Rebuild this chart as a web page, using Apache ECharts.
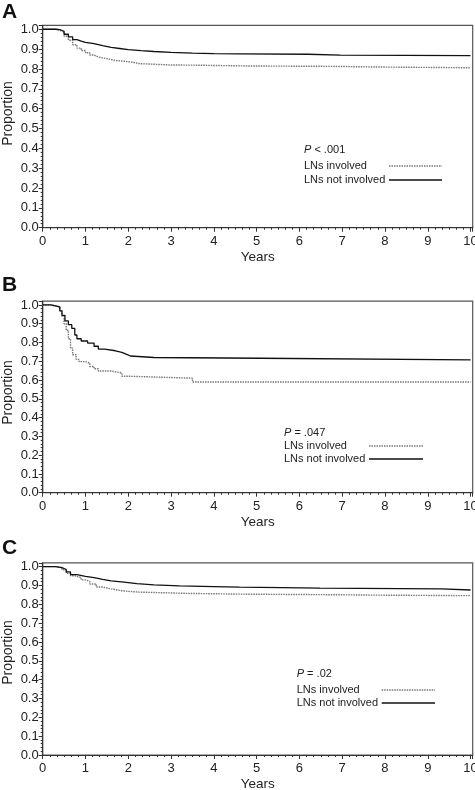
<!DOCTYPE html>
<html><head><meta charset="utf-8">
<script src="https://cdn.jsdelivr.net/npm/echarts@6/dist/echarts.min.js"></script>
<style>html,body{margin:0;padding:0;background:#fff}#c{width:475px;height:790px}</style>
</head><body><div id="c"></div><script>
// ---- data ----
const xTicks = [0,1,2,3,4,5,6,7,8,9,10];
const yTicks = [0.0,0.1,0.2,0.3,0.4,0.5,0.6,0.7,0.8,0.9,1.0];
const panelLetters = ['A','B','C'];
const pValues = ['< .001','= .047','= .02'];
const seriesNames = ['LNs involved','LNs not involved'];

const aInvolvedT = [0,0.3,0.4,0.5,0.6,0.7,0.8,0.9,1.0,1.1,1.2,1.3,1.5,1.7,1.9,2.1,2.25,3.0,3.6,4.8,6.8,7.7,10];
const aInvolvedS = [1.0,0.995,0.985,0.965,0.945,0.922,0.905,0.893,0.882,0.87,0.86,0.852,0.843,0.839,0.834,0.827,0.82,0.819,0.815,0.813,0.81,0.806,0.806];
const aNotT = [0,0.3,0.4,0.5,0.6,0.7,0.8,0.9,1.0,1.2,1.4,1.6,1.8,2.0,2.3,2.6,3.0,3.5,4.0,4.6,6.2,6.95,10];
const aNotS = [1.0,0.998,0.99,0.975,0.962,0.948,0.94,0.934,0.928,0.918,0.909,0.903,0.897,0.892,0.888,0.884,0.880,0.877,0.876,0.874,0.870,0.867,0.867];

const bInvolvedT = [0,0.15,0.3,0.4,0.45,0.5,0.55,0.6,0.65,0.7,0.78,0.85,1.0,1.1,1.2,1.3,1.6,1.85,2.05,3.5,10];
const bInvolvedS = [1.0,0.995,0.988,0.97,0.94,0.9,0.865,0.82,0.77,0.735,0.71,0.698,0.69,0.672,0.66,0.648,0.638,0.62,0.61,0.59,0.59];
const bNotT = [0,0.2,0.3,0.4,0.45,0.52,0.6,0.68,0.75,0.8,0.9,1.05,1.2,1.3,1.45,1.7,1.85,1.95,2.05,2.6,5.08,10];
const bNotS = [1.0,0.995,0.99,0.968,0.945,0.915,0.895,0.875,0.84,0.82,0.808,0.797,0.78,0.765,0.756,0.747,0.738,0.728,0.72,0.716,0.707,0.707];

const cInvolvedT = [0,0.3,0.45,0.55,0.65,0.75,0.9,1.0,1.1,1.25,1.4,1.6,1.8,2.0,2.25,3.4,4.7,6.8,7.7,10];
const cInvolvedS = [1.0,0.995,0.983,0.965,0.952,0.942,0.93,0.921,0.908,0.892,0.882,0.874,0.869,0.865,0.858,0.854,0.851,0.849,0.846,0.846];
const cNotT = [0,0.3,0.45,0.55,0.65,0.8,1.0,1.2,1.4,1.6,1.9,2.2,2.6,3.2,4.0,4.6,5.58,6.48,9.32,10];
const cNotS = [1.0,0.995,0.985,0.972,0.958,0.949,0.942,0.933,0.925,0.918,0.91,0.903,0.898,0.894,0.891,0.889,0.886,0.882,0.876,0.876];

// ---- build ----
const zip = (t, s) => t.map((v, i) => [v, s[i]]);
const panels = [
  { inv: zip(aInvolvedT, aInvolvedS), not: zip(aNotT, aNotS) },
  { inv: zip(bInvolvedT, bInvolvedS), not: zip(bNotT, bNotS) },
  { inv: zip(cInvolvedT, cInvolvedS), not: zip(cNotT, cNotS) }
];
const FONT = "'Liberation Sans', Arial, sans-serif";
const grids = [
  { left: 42.7, width: 430, top: 25.3, height: 202.4 },
  { left: 42.7, width: 430, top: 301.2, height: 191.5 },
  { left: 42.7, width: 430, top: 562.9, height: 192.1 }
].map(g => Object.assign(g, { show: true, borderColor: '#555', borderWidth: 1.2, backgroundColor: 'transparent', containLabel: false, outerBoundsMode: 'none' }));

const xAxes = grids.map((g, i) => ({
  type: 'value', gridIndex: i, min: xTicks[0], max: 10.05, interval: 1,
  name: 'Years', nameLocation: 'middle', nameGap: 22.5,
  nameTextStyle: { fontFamily: FONT, fontSize: 13.5, color: '#222' },
  axisLine: { show: true, lineStyle: { color: '#333', width: 1.2 } },
  axisTick: { show: true, length: 4, lineStyle: { color: '#333' } },
  minorTick: { show: true, splitNumber: 6, length: 2, lineStyle: { color: '#333' } },
  axisLabel: { fontFamily: FONT, fontSize: 13, color: '#222', margin: 7, showMaxLabel: false,
    formatter: v => xTicks.indexOf(v) >= 0 ? String(v) : '' },
  splitLine: { show: false }
}));
const yAxes = grids.map((g, i) => ({
  type: 'value', gridIndex: i, min: 0, max: 1.02, interval: 0.1,
  axisLine: { show: true, lineStyle: { color: '#333', width: 1.2 } },
  axisTick: { show: true, length: 4, lineStyle: { color: '#333' } },
  minorTick: { show: true, splitNumber: 5, length: 2, lineStyle: { color: '#333' } },
  axisLabel: { fontFamily: FONT, fontSize: 13, color: '#222', margin: 4, showMaxLabel: false,
    formatter: v => yTicks.some(t => Math.abs(t - v) < 1e-6) ? v.toFixed(1) : '' },
  splitLine: { show: false }
}));

const series = [];
panels.forEach((p, i) => {
  series.push({ name: seriesNames[0], type: 'line', step: 'end', xAxisIndex: i, yAxisIndex: i,
    showSymbol: false, symbol: 'none', data: p.inv,
    lineStyle: { color: '#777', width: 1.4, type: [1.5, 1] } });
  series.push({ name: seriesNames[1], type: 'line', step: 'end', xAxisIndex: i, yAxisIndex: i,
    showSymbol: false, symbol: 'none', data: p.not,
    lineStyle: { color: '#111', width: 1.3 } });
});

// annotation positions (layout only)
const letterY = [12.5, 285, 548.3];
const propY = [113.5, 392.5, 652.5];
const legendPos = [
  { x: 304, pY: 150, r1: 166, r2: 180, lx1: 389, lx2: 442 },
  { x: 284, pY: 432.7, r1: 446, r2: 459, lx1: 369, lx2: 423 },
  { x: 296.7, pY: 674, r1: 690, r2: 703, lx1: 381.7, lx2: 435 }
];
const graphic = [];
panelLetters.forEach((L, i) => {
  graphic.push({ type: 'text', x: 2, y: letterY[i], style: { text: L, fill: '#111', font: 'bold 21px ' + FONT, align: 'left', verticalAlign: 'middle' } });
  graphic.push({ type: 'text', x: 8.5, y: propY[i], rotation: Math.PI / 2, style: { text: 'Proportion', fill: '#222', font: '14px ' + FONT, align: 'center', verticalAlign: 'middle' } });
  const lp = legendPos[i];
  graphic.push({ type: 'text', x: lp.x, y: lp.pY, style: { text: '{i|P} ' + pValues[i], fill: '#222', font: '11px ' + FONT, align: 'left', verticalAlign: 'middle',
    rich: { i: { fontStyle: 'italic', fontFamily: FONT, fontSize: 11, fill: '#222' } } } });
  graphic.push({ type: 'text', x: lp.x, y: lp.r1, style: { text: seriesNames[0], fill: '#222', font: '11px ' + FONT, align: 'left', verticalAlign: 'middle' } });
  graphic.push({ type: 'text', x: lp.x, y: lp.r2, style: { text: seriesNames[1], fill: '#222', font: '11px ' + FONT, align: 'left', verticalAlign: 'middle' } });
  graphic.push({ type: 'line', shape: { x1: lp.lx1, y1: lp.r1, x2: lp.lx2, y2: lp.r1 }, style: { stroke: '#777', lineWidth: 1.4, lineDash: [1.5, 1] } });
  graphic.push({ type: 'line', shape: { x1: lp.lx1, y1: lp.r2, x2: lp.lx2, y2: lp.r2 }, style: { stroke: '#111', lineWidth: 1.3 } });
});

const chart = echarts.init(document.getElementById('c'), null, { renderer: 'canvas' });
chart.setOption({
  animation: false,
  backgroundColor: '#fff',
  textStyle: { fontFamily: FONT },
  grid: grids,
  xAxis: xAxes,
  yAxis: yAxes,
  series: series,
  graphic: graphic
});
</script></body></html>
